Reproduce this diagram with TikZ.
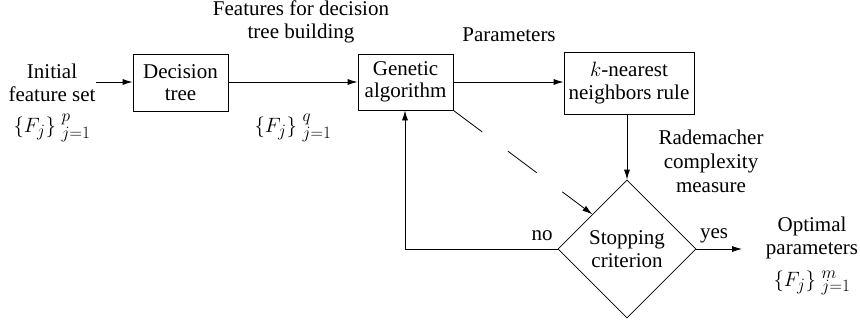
\documentclass[tikz,border=0pt]{standalone}
\usepackage{fontspec}
\setmainfont{Liberation Serif}
\DeclareMathSizes{21}{20.74}{17.28}{12}
\usetikzlibrary{arrows.meta,shapes.geometric}
% feature set with its index range, scripts set a little apart
\newcommand{\fset}[1]{$\{F_j\}^{\mkern6mu #1}_{\mkern6mu j=1}$}
\begin{document}
\begin{tikzpicture}[x=1pt,y=-1pt,
  every node/.style={font=\fontsize{21}{22.5}\selectfont, align=center, inner sep=0pt},
  block/.style={draw, line width=0.8pt, rectangle},
  decision/.style={draw, line width=0.8pt, diamond, minimum width=138pt, minimum height=138pt},
  flow/.style={line width=0.8pt, -{Latex[length=10pt,width=6pt]}}]
\useasboundingbox (0,0) rectangle (860,321);

% process blocks
\node[block, minimum width=95pt, minimum height=57pt] (dt) at (180.5,82.5) {Decision\\tree};
\node[block, minimum width=95pt, minimum height=56pt] (ga) at (405.5,82) {Genetic\\algorithm};
\node[block, minimum width=130pt, minimum height=62pt] (knn) at (629,83) {$k$-nearest\\neighbors rule};
\node[decision] (stop) at (627,249) {Stopping\\criterion};

% free ends and bends
\coordinate (in) at (96,82);
\coordinate (out) at (742,249);
\coordinate (bend) at (405,249);

% texts
\node (init) at (52,83) {Initial\\feature set};
\node (fp) at (52,128) {\fset{p}};
\node (feat) at (301,22) {Features for decision\\tree building};
\node (fq) at (293,128) {\fset{q}};
\node (par) at (509,35) {Parameters};
\node[font=\fontsize{21}{24}\selectfont] (rad) at (711,161) {Rademacher\\complexity\\measure};
\node (no) at (542,236) {no};
\node (yes) at (714,236) {yes};
\node (opt) at (812,238) {Optimal\\parameters};
\node (fm) at (812,283) {\fset{m}};

% connectors
\draw[flow] (in) -- (dt.west |- in);
\draw[flow] (dt.east |- 0,82) -- (ga.west |- 0,82);
\draw[flow] (ga.east |- 0,82) -- (knn.west |- 0,82);
\draw[flow] (knn.south -| stop.north) -- (stop.north);
\draw[flow] (stop.west) -- (bend) -- (ga.south -| bend);
\draw[flow] (stop.east) -- (out);
\draw[flow, dash pattern=on 36pt off 32pt] (ga.south east) -- (stop.north west);
\end{tikzpicture}
\end{document}
